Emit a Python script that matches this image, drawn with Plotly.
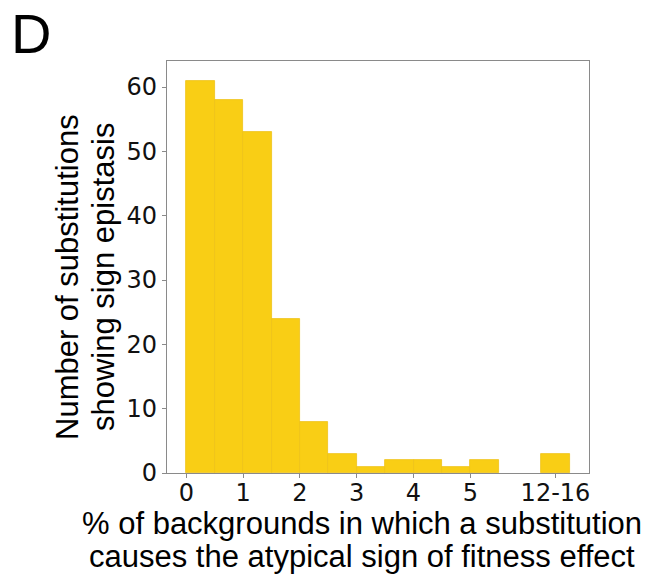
import plotly.graph_objects as go

# Data
bin_centers = [0.25, 0.75, 1.25, 1.75, 2.25, 2.75, 3.25, 3.75, 4.25, 4.75, 5.25, 6.5]
counts = [61, 58, 53, 24, 8, 3, 1, 2, 2, 1, 2, 3]
tick_vals = [0, 1, 2, 3, 4, 5, 6.5]
tick_text = ["0", "1", "2", "3", "4", "5", "12-16"]
y_ticks = [0, 10, 20, 30, 40, 50, 60]

fig = go.Figure()
fig.add_trace(go.Bar(
    x=bin_centers, y=counts, width=0.5,
    marker=dict(color="#F9CE15", line=dict(color="#EDC218", width=0.8)),
    showlegend=False,
))

tickfont = dict(family="DejaVu Sans", size=24, color="#111111")
title_font = dict(family="Liberation Sans", size=31, color="black")
fig.update_layout(
    width=652, height=575,
    margin=dict(l=167, r=63, t=61, b=102),
    paper_bgcolor="white", plot_bgcolor="white",
    bargap=0,
    xaxis=dict(range=[-0.34, 7.09], tickvals=tick_vals, ticktext=tick_text,
               showgrid=False, zeroline=False, showline=True, mirror=True,
               linecolor="#8a8a8a", linewidth=1.2, ticks="outside", ticklen=4,
               tickcolor="#8a8a8a", tickfont=tickfont, ticklabelstandoff=-6),
    yaxis=dict(range=[0, 64.05], tickvals=y_ticks,
               showgrid=False, zeroline=False, showline=True, mirror=True,
               linecolor="#8a8a8a", linewidth=1.2, ticks="outside", ticklen=4,
               tickcolor="#8a8a8a", tickfont=tickfont),
    annotations=[
        dict(text="D", xref="paper", yref="paper", x=(9 - 167) / 422, y=(473 + 0) / 412,
             xanchor="left", yanchor="top", showarrow=False,
             font=dict(family="Liberation Sans", size=56, color="black")),
        dict(text="Number of substitutions", xref="paper", yref="paper",
             x=(67 - 167) / 422, y=(473 - 277) / 412, textangle=-90,
             xanchor="center", yanchor="middle", showarrow=False, font=title_font),
        dict(text="showing sign epistasis", xref="paper", yref="paper",
             x=(103 - 167) / 422, y=(473 - 277) / 412, textangle=-90,
             xanchor="center", yanchor="middle", showarrow=False, font=title_font),
        dict(text="% of backgrounds in which a substitution",
             xref="paper", yref="paper", x=(362 - 167) / 422, y=(473 - 523) / 412,
             xanchor="center", yanchor="middle", showarrow=False, font=title_font),
        dict(text="causes the atypical sign of fitness effect",
             xref="paper", yref="paper", x=(362 - 167) / 422, y=(473 - 556) / 412,
             xanchor="center", yanchor="middle", showarrow=False, font=title_font),
    ],
)

fig.write_html("out.html")
